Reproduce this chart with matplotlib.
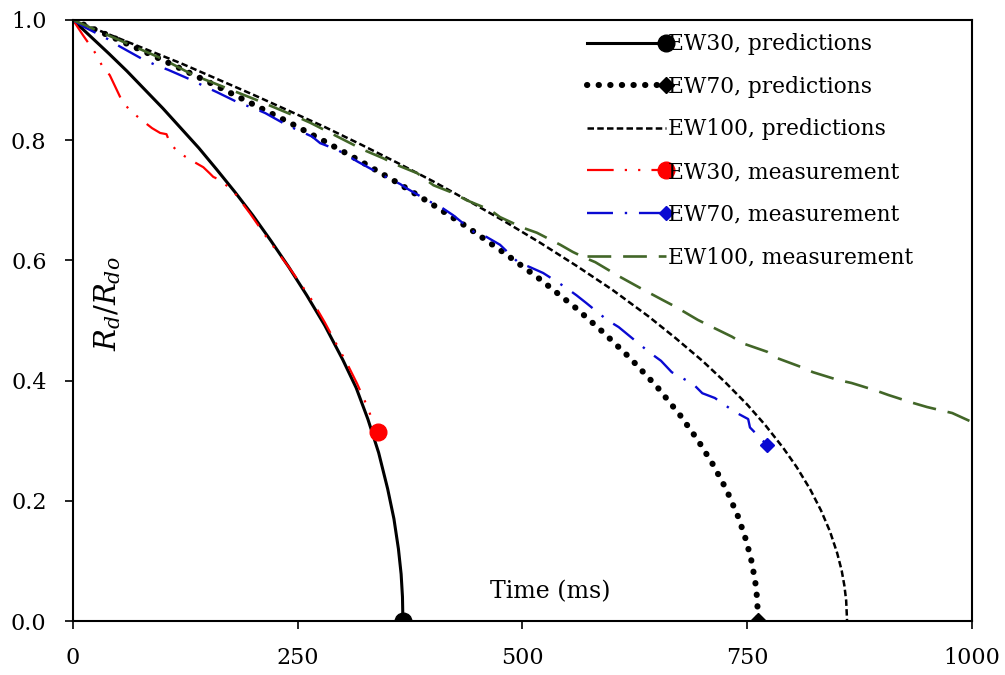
import matplotlib
matplotlib.use('Agg')
import matplotlib.pyplot as plt
from matplotlib.lines import Line2D
from matplotlib.legend_handler import HandlerLine2D

plt.rcParams['font.family'] = ['DejaVu Serif']
plt.rcParams['mathtext.fontset'] = 'dejavuserif'

# EW30, predictions
t30p = [0, 20, 40, 60, 80, 100, 120, 140, 160, 180, 200, 220, 240, 260, 280, 300, 315, 328, 340, 350, 357, 362, 365, 366.5, 367]
y30p = [1.0, 0.972, 0.944, 0.915, 0.884, 0.853, 0.82, 0.787, 0.751, 0.714, 0.675, 0.633, 0.589, 0.542, 0.492, 0.435, 0.388, 0.336, 0.28, 0.22, 0.17, 0.12, 0.078, 0.04, 0.0]

# EW70, predictions
t70p = [0, 40, 80, 120, 160, 200, 240, 280, 320, 360, 400, 440, 480, 520, 560, 590, 620, 650, 675, 695, 712, 727, 740, 749, 755, 759, 761, 762]
y70p = [1.0, 0.974, 0.947, 0.919, 0.89, 0.86, 0.83, 0.798, 0.765, 0.73, 0.693, 0.654, 0.612, 0.568, 0.52, 0.48, 0.437, 0.389, 0.343, 0.301, 0.26, 0.218, 0.173, 0.133, 0.098, 0.064, 0.037, 0.0]

# EW100, predictions
t100p = [0, 40, 80, 120, 160, 200, 240, 280, 320, 360, 400, 440, 480, 520, 560, 600, 640, 670, 700, 725, 750, 770, 790, 805, 820, 832, 842, 850, 855, 858, 860, 861]
y100p = [1.0, 0.976, 0.952, 0.928, 0.902, 0.876, 0.849, 0.822, 0.793, 0.763, 0.732, 0.699, 0.665, 0.629, 0.591, 0.551, 0.507, 0.471, 0.433, 0.398, 0.36, 0.326, 0.288, 0.256, 0.219, 0.184, 0.149, 0.113, 0.084, 0.059, 0.034, 0.0]

# EW30, measurement
t30m = [0, 11, 24, 32, 41, 54, 63, 76, 88, 97, 104, 108, 117, 131, 145, 152, 156, 163, 178, 197, 216, 240, 264, 280, 294, 305, 316, 327, 334, 339]
y30m = [1.0, 0.975, 0.947, 0.925, 0.908, 0.867, 0.85, 0.834, 0.82, 0.812, 0.81, 0.795, 0.78, 0.767, 0.755, 0.745, 0.739, 0.734, 0.716, 0.678, 0.637, 0.589, 0.538, 0.497, 0.458, 0.428, 0.395, 0.358, 0.33, 0.315]

# EW70, measurement
t70m = [0, 13, 39, 52, 76, 92, 106, 132, 147, 160, 186, 200, 214, 238, 266, 275, 294, 317, 344, 364, 371, 394, 410, 423, 447, 460, 475, 495, 508, 523, 547, 560, 571, 594, 607, 620, 642, 654, 666, 690, 700, 714, 736, 751, 753, 772]
y70m = [1.0, 0.988, 0.968, 0.956, 0.936, 0.925, 0.917, 0.9, 0.889, 0.88, 0.861, 0.854, 0.845, 0.825, 0.806, 0.795, 0.784, 0.764, 0.742, 0.727, 0.72, 0.70, 0.688, 0.675, 0.646, 0.639, 0.626, 0.597, 0.589, 0.579, 0.556, 0.542, 0.529, 0.501, 0.489, 0.473, 0.446, 0.433, 0.414, 0.394, 0.379, 0.371, 0.348, 0.336, 0.322, 0.293]

# EW100, measurement
t100m = [0, 60, 100, 133, 204, 252, 264, 323, 345, 360, 383, 401, 423, 438, 464, 475, 501, 516, 542, 556, 570, 581, 608, 631, 656, 670, 695, 707, 733, 745, 772, 784, 811, 823, 851, 866, 892, 907, 934, 950, 978, 1000]
y100m = [1.0, 0.961, 0.935, 0.909, 0.867, 0.837, 0.829, 0.784, 0.77, 0.759, 0.745, 0.725, 0.712, 0.70, 0.684, 0.672, 0.654, 0.646, 0.626, 0.614, 0.604, 0.597, 0.573, 0.554, 0.534, 0.523, 0.501, 0.492, 0.473, 0.462, 0.448, 0.437, 0.422, 0.414, 0.401, 0.396, 0.384, 0.376, 0.363, 0.356, 0.346, 0.331]

x_ticks = [0, 250, 500, 750, 1000]
y_ticks = [0.0, 0.2, 0.4, 0.6, 0.8, 1.0]

red = '#ff0000'
blue = '#0a0ad2'
green = '#426628'


class EndMarker(HandlerLine2D):
    # line over the whole handle, marker only at its right end (Excel style)
    def create_artists(self, legend, orig_handle, xdescent, ydescent,
                       width, height, fontsize, trans):
        y = (height - ydescent) / 2
        x0, x1 = -xdescent, -xdescent + width
        line = Line2D([x0, x1], [y, y])
        self.update_prop(line, orig_handle, legend)
        line.set_marker('None')
        mark = Line2D([x1], [y])
        self.update_prop(mark, orig_handle, legend)
        mark.set_linestyle('None')
        mark.set_markevery(None)
        line.set_transform(trans)
        mark.set_transform(trans)
        return [line, mark]


fig = plt.figure(figsize=(10.05, 6.75), dpi=100)
ax = fig.add_axes([0.0726, 0.08, 0.8946, 0.8904])

ax.plot(t30p, y30p, color='black', lw=2.2, marker='o', ms=12, markevery=[-1],
        label='EW30, predictions')
ax.plot(t70p, y70p, color='black', lw=4.4, ls=(0, (0.05, 1.85)), dash_capstyle='round',
        marker='D', ms=8.5, markevery=[-1], label='EW70, predictions')
ax.plot(t100p, y100p, color='black', lw=1.8, ls=(0, (2.6, 1.3)),
        label='EW100, predictions')
ax.plot(t30m, y30m, color=red, lw=1.6, ls=(0, (12, 5, 1, 5, 1, 5)),
        marker='o', ms=12, markevery=[-1], label='EW30, measurement')
ax.plot(t70m, y70m, color=blue, lw=1.7, ls=(0, (11, 5, 1, 5)),
        marker='D', ms=7, markevery=[-1], label='EW70, measurement')
ax.plot(t100m, y100m, color=green, lw=1.9, ls=(0, (9, 4.5)),
        label='EW100, measurement')

ax.set_xlim(0, 1000)
ax.set_ylim(0, 1.0)
ax.set_xticks(x_ticks)
ax.set_yticks(y_ticks)
ax.set_yticklabels(['%.1f' % v for v in y_ticks])
ax.tick_params(direction='out', length=6, width=1.2, labelsize=16, pad=13)
for s in ax.spines.values():
    s.set_linewidth(1.5)

ax.text(0.531, 0.048, 'Time (ms)', transform=ax.transAxes, fontsize=17,
        ha='center', va='center')
ax.text(0.038, 0.528, r'$R_d/R_{do}$', transform=ax.transAxes, fontsize=21,
        rotation=90, ha='center', va='center')

handles, labels = ax.get_legend_handles_labels()
ax.legend(handles, labels, loc='upper left', bbox_to_anchor=(0.572, 0.978),
          frameon=False, fontsize=15.7, handlelength=3.6, handletextpad=0.1,
          labelspacing=0.945, borderpad=0, borderaxespad=0,
          handler_map={h: EndMarker() for h in handles})

fig.savefig('out.png', dpi=100)
